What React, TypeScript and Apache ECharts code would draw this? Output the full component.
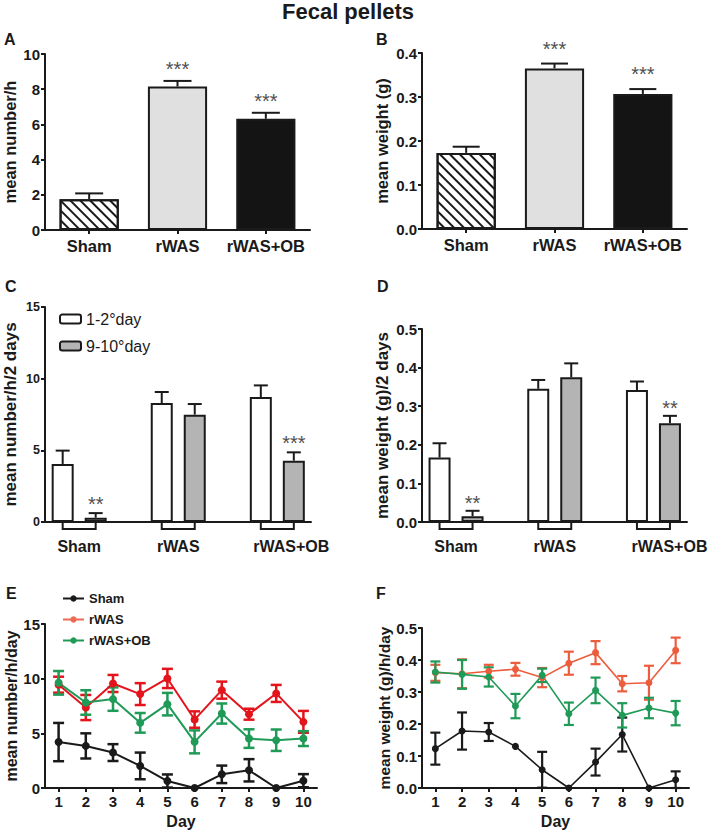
import React, { useEffect, useRef } from "react";
import * as echarts from "echarts";

// ---------- data ----------
const barCats = ["Sham", "rWAS", "rWAS+OB"];

const aMeans = [1.75, 8.15, 6.32];
const aErrs = [0.33, 0.32, 0.34];
const aStars = ["", "***", "***"];

const bMeans = [0.173, 0.365, 0.307];
const bErrs = [0.014, 0.011, 0.011];
const bStars = ["", "***", "***"];

const cDay12 = [4.05, 8.3, 8.72];
const cDay12Err = [0.93, 0.77, 0.81];
const cDay910 = [0.3, 7.49, 4.28];
const cDay910Err = [0.32, 0.74, 0.58];
const cStars = ["**", "", "***"];

const dDay12 = [0.167, 0.345, 0.342];
const dDay12Err = [0.037, 0.023, 0.022];
const dDay910 = [0.015, 0.375, 0.256];
const dDay910Err = [0.014, 0.036, 0.019];
const dStars = ["**", "", "**"];

const days = ["1", "2", "3", "4", "5", "6", "7", "8", "9", "10"];

const eSham = [4.2, 3.85, 3.24, 2.02, 0.64, 0, 1.25, 1.62, 0, 0.67];
const eShamErr = [1.75, 1.15, 0.77, 1.22, 0.6, 0, 0.8, 1.02, 0, 0.6];
const eRwas = [9.45, 7.36, 9.56, 8.59, 10.02, 6.26, 8.95, 6.75, 8.65, 6.05];
const eRwasErr = [0.73, 1.15, 0.78, 1.0, 0.88, 0.75, 0.78, 0.5, 0.78, 1.0];
const eOb = [9.62, 7.82, 8.13, 5.96, 7.67, 4.22, 6.81, 4.52, 4.37, 4.52];
const eObErr = [1.08, 1.12, 1.07, 0.9, 1.03, 1.05, 0.92, 0.85, 0.98, 0.68];

const fSham = [0.123, 0.178, 0.175, 0.13, 0.057, 0, 0.081, 0.167, 0, 0.026];
const fShamErr = [0.05, 0.058, 0.028, 0, 0.056, 0, 0.042, 0.053, 0, 0.026];
const fRwas = [0.36, 0.357, 0.365, 0.371, 0.345, 0.39, 0.423, 0.326, 0.329, 0.43];
const fRwasErr = [0.025, 0.045, 0.02, 0.02, 0.03, 0.036, 0.036, 0.024, 0.053, 0.04];
const fOb = [0.3625, 0.355, 0.347, 0.256, 0.352, 0.232, 0.305, 0.227, 0.25, 0.234];
const fObErr = [0.033, 0.045, 0.03, 0.038, 0.021, 0.035, 0.04, 0.038, 0.032, 0.038];

// ---------- style ----------
const FONT = "'Liberation Sans', Arial, Helvetica, sans-serif";
const AX = "#1a1a1a";
const STAR = "#505050";
const GRAY_BAR = "#b4b4b4";
const SHAM_C = "#1a1a1a";
const RWAS_E = "#e3141c";
const RWAS_F = "#ec5d3d";
const RWAS_LEG = "#ef6a55";
const OB_C = "#1f9a57";
const PAIR_OFF = 16.5;

function yAx(gi: number, min: number, max: number, interval: number, name: string, nameGap: number, nameSize: number, labelSize: number, dec: number) {
  return {
    type: "value",
    gridIndex: gi,
    min,
    max,
    interval,
    name,
    nameLocation: "middle",
    nameGap,
    nameTextStyle: { fontFamily: FONT, fontWeight: "bold", fontSize: nameSize, color: AX },
    axisLine: { show: true, onZero: false, lineStyle: { color: AX, width: 2 } },
    axisTick: { show: true, length: 4, lineStyle: { color: AX, width: 2 } },
    axisLabel: {
      fontFamily: FONT,
      fontWeight: "bold",
      fontSize: labelSize,
      color: AX,
      margin: 5,
      formatter: (v: number) => v.toFixed(dec),
    },
    splitLine: { show: false },
  };
}

function catX(gi: number, data: string[], fontSize: number, margin: number, name?: string) {
  return {
    type: "category",
    gridIndex: gi,
    data,
    name: name || "",
    nameLocation: "middle",
    nameGap: 25,
    nameTextStyle: { fontFamily: FONT, fontWeight: "bold", fontSize: 16, color: AX },
    axisLine: { show: true, onZero: false, lineStyle: { color: AX, width: 2 } },
    axisTick: { show: true, alignWithLabel: true, length: 4, lineStyle: { color: AX, width: 2 } },
    axisLabel: { fontFamily: FONT, fontWeight: "bold", fontSize, color: AX, margin, interval: 0 },
    splitLine: { show: false },
  };
}

function pairX(gi: number, obPad: number) {
  return {
    type: "value",
    gridIndex: gi,
    min: -0.345,
    max: 2.34,
    axisLine: { show: true, onZero: false, lineStyle: { color: AX, width: 2 } },
    axisTick: { show: false },
    splitLine: { show: false },
    axisLabel: {
      customValues: [0, 1, 2],
      margin: 16,
      fontFamily: FONT,
      fontWeight: "bold",
      fontSize: 16,
      color: AX,
      formatter: (v: number) => {
        const i = Math.round(v);
        return i === 2 ? "{o|" + barCats[i] + "}" : barCats[i];
      },
      rich: {
        o: { fontFamily: FONT, fontWeight: "bold", fontSize: 16, color: AX, padding: [0, 0, 0, obPad] },
      },
    },
  };
}

function errSeries(idx: number, means: number[], errs: number[], o: { offset: number; cap: number; both: boolean; color: string; width: number }) {
  return {
    type: "custom",
    xAxisIndex: idx,
    yAxisIndex: idx,
    clip: false,
    silent: true,
    z: 3,
    data: means.map((m, i) => [i, m, errs[i]]),
    renderItem: (_p: any, api: any) => {
      const x = api.value(0);
      const m = api.value(1);
      const e = api.value(2);
      if (!e) return { type: "group", children: [] };
      const pm = api.coord([x, m]);
      const pt = api.coord([x, m + e]);
      const pb = api.coord([x, m - e]);
      const cx = pm[0] + o.offset;
      const st = { stroke: o.color, lineWidth: o.width };
      const children: any[] = [
        { type: "line", shape: { x1: cx, y1: o.both ? pb[1] : pm[1], x2: cx, y2: pt[1] }, style: st },
        { type: "line", shape: { x1: cx - o.cap / 2, y1: pt[1], x2: cx + o.cap / 2, y2: pt[1] }, style: st },
      ];
      if (o.both) {
        children.push({ type: "line", shape: { x1: cx - o.cap / 2, y1: pb[1], x2: cx + o.cap / 2, y2: pb[1] }, style: st });
      }
      return { type: "group", children };
    },
  };
}

function starSeries(idx: number, means: number[], errs: number[], stars: string[], offset: number, gap: number) {
  return {
    type: "custom",
    xAxisIndex: idx,
    yAxisIndex: idx,
    clip: false,
    silent: true,
    z: 5,
    data: means.map((m, i) => [i, m + errs[i]]),
    renderItem: (p: any, api: any) => {
      const s = stars[p.dataIndex];
      if (!s) return { type: "group", children: [] };
      const c = api.coord([api.value(0), api.value(1)]);
      return {
        type: "text",
        x: c[0] + offset,
        y: c[1] - gap,
        style: { text: s, fontFamily: FONT, fontSize: 20, fill: STAR, align: "center", verticalAlign: "bottom" },
      };
    },
  };
}

function bracketSeries(idx: number) {
  return {
    type: "custom",
    xAxisIndex: idx,
    yAxisIndex: idx,
    clip: false,
    silent: true,
    z: 4,
    data: barCats.map((_c, i) => [i, 0]),
    renderItem: (_p: any, api: any) => {
      const c = api.coord([api.value(0), 0]);
      return {
        type: "polyline",
        shape: {
          points: [
            [c[0] - PAIR_OFF, c[1]],
            [c[0] - PAIR_OFF, c[1] + 7],
            [c[0] + PAIR_OFF, c[1] + 7],
            [c[0] + PAIR_OFF, c[1]],
          ],
        },
        style: { stroke: AX, lineWidth: 2, fill: null },
      };
    },
  };
}

const hatch = {
  symbol: "rect",
  symbolSize: 1,
  color: AX,
  backgroundColor: "#ffffff",
  dashArrayX: [1, 0],
  dashArrayY: [2, 5],
  rotation: Math.PI / 4,
};

function singleBarStyles() {
  return [
    { color: "#ffffff", decal: hatch, borderColor: AX, borderWidth: 2 },
    { color: "#e0e0e0", borderColor: AX, borderWidth: 2 },
    { color: "#141414", borderColor: AX, borderWidth: 2 },
  ];
}

function lineSeries(idx: number, name: string, data: number[], color: string, width: number, size: number) {
  return {
    type: "line",
    name,
    xAxisIndex: idx,
    yAxisIndex: idx,
    data,
    symbol: "circle",
    symbolSize: size,
    itemStyle: { color },
    lineStyle: { color, width },
    z: 4,
  };
}

const letter = (t: string, left: number, top: number) => ({
  text: t,
  left,
  top,
  padding: 0,
  textStyle: { fontFamily: FONT, fontWeight: "bold", fontSize: 16, color: AX },
});

export default function App() {
  const ref = useRef<HTMLDivElement>(null);
  useEffect(() => {
    if (!ref.current) return;
    const chart = echarts.init(ref.current, undefined, { renderer: "svg" });
    const st = singleBarStyles();
    const option: any = {
      animation: false,
      backgroundColor: "#ffffff",
      title: [
        {
          text: "Fecal pellets",
          left: 282,
          top: 0,
          padding: 0,
          textStyle: { fontFamily: FONT, fontWeight: "bold", fontSize: 22, color: AX },
        },
        letter("A", 4, 31),
        letter("B", 376, 31),
        letter("C", 5, 278),
        letter("D", 377, 278),
        letter("E", 6, 585),
        letter("F", 376, 585),
      ],
      legend: [
        {
          data: ["1-2°day", "9-10°day"],
          left: 54,
          top: 306,
          orient: "vertical",
          itemWidth: 21,
          itemHeight: 9,
          itemGap: 11,
          selectedMode: false,
          textStyle: { fontFamily: FONT, fontSize: 16, color: AX },
        },
        {
          data: [
            { name: "Sham" },
            { name: "rWAS", itemStyle: { color: RWAS_LEG }, lineStyle: { color: RWAS_LEG } },
            { name: "rWAS+OB" },
          ],
          left: 57,
          top: 587,
          orient: "vertical",
          itemWidth: 21,
          itemHeight: 8,
          itemGap: 8,
          selectedMode: false,
          textStyle: { fontFamily: FONT, fontSize: 13, fontWeight: "bold", color: AX },
        },
      ],
      grid: [
        { left: 45, top: 54, width: 265, height: 176, outerBoundsMode: "none" },
        { left: 422, top: 53, width: 265, height: 176, outerBoundsMode: "none" },
        { left: 45, top: 307, width: 266, height: 215, outerBoundsMode: "none" },
        { left: 422, top: 329, width: 265, height: 193, outerBoundsMode: "none" },
        { left: 45, top: 624, width: 272, height: 164, outerBoundsMode: "none" },
        { left: 422, top: 628, width: 267, height: 160, outerBoundsMode: "none" },
      ],
      xAxis: [
        catX(0, barCats, 16.5, 7),
        catX(1, barCats, 16.5, 7),
        pairX(2, 28),
        pairX(3, 32),
        catX(4, days, 15, 6, "Day"),
        catX(5, days, 15, 6, "Day"),
      ],
      yAxis: [
        yAx(0, 0, 10, 2, "mean number/h", 27, 16.5, 15, 0),
        yAx(1, 0, 0.4, 0.1, "mean weight (g)", 32, 16.5, 15, 1),
        yAx(2, 0, 15, 5, "mean number/h/2 days", 26, 17, 12.5, 0),
        yAx(3, 0, 0.5, 0.1, "mean weight (g)/2 days", 31, 17, 15, 1),
        yAx(4, 0, 15, 5, "mean number/h/day", 20, 16, 15, 0),
        yAx(5, 0, 0.5, 0.1, "mean weight (g)/h/day", 28, 15.5, 15, 1),
      ],
      series: [
        // A
        {
          type: "bar",
          name: "A",
          xAxisIndex: 0,
          yAxisIndex: 0,
          barWidth: "67%",
          data: aMeans.map((v, i) => ({ value: v, itemStyle: st[i] })),
          z: 2,
        },
        errSeries(0, aMeans, aErrs, { offset: 0, cap: 28, both: false, color: AX, width: 2 }),
        starSeries(0, aMeans, aErrs, aStars, 0, 2),
        // B
        {
          type: "bar",
          name: "B",
          xAxisIndex: 1,
          yAxisIndex: 1,
          barWidth: "67%",
          data: bMeans.map((v, i) => ({ value: v, itemStyle: st[i] })),
          z: 2,
        },
        errSeries(1, bMeans, bErrs, { offset: 0, cap: 27, both: false, color: AX, width: 2 }),
        starSeries(1, bMeans, bErrs, bStars, 0, 5),
        // C
        {
          type: "bar",
          name: "1-2°day",
          xAxisIndex: 2,
          yAxisIndex: 2,
          barWidth: 22,
          barGap: "50%",
          itemStyle: { color: "#ffffff", borderColor: AX, borderWidth: 2 },
          data: cDay12.map((v, i) => [i, v]),
          z: 2,
        },
        {
          type: "bar",
          name: "9-10°day",
          xAxisIndex: 2,
          yAxisIndex: 2,
          barWidth: 22,
          barGap: "50%",
          itemStyle: { color: GRAY_BAR, borderColor: AX, borderWidth: 2 },
          data: cDay910.map((v, i) => [i, v]),
          z: 2,
        },
        errSeries(2, cDay12, cDay12Err, { offset: -PAIR_OFF, cap: 14, both: false, color: AX, width: 2 }),
        errSeries(2, cDay910, cDay910Err, { offset: PAIR_OFF, cap: 14, both: false, color: AX, width: 2 }),
        starSeries(2, cDay910, cDay910Err, cStars, PAIR_OFF, -1),
        bracketSeries(2),
        // D
        {
          type: "bar",
          name: "D 1-2°day",
          xAxisIndex: 3,
          yAxisIndex: 3,
          barWidth: 22,
          barGap: "50%",
          itemStyle: { color: "#ffffff", borderColor: AX, borderWidth: 2 },
          data: dDay12.map((v, i) => [i, v]),
          z: 2,
        },
        {
          type: "bar",
          name: "D 9-10°day",
          xAxisIndex: 3,
          yAxisIndex: 3,
          barWidth: 22,
          barGap: "50%",
          itemStyle: { color: GRAY_BAR, borderColor: AX, borderWidth: 2 },
          data: dDay910.map((v, i) => [i, v]),
          z: 2,
        },
        errSeries(3, dDay12, dDay12Err, { offset: -PAIR_OFF, cap: 14, both: false, color: AX, width: 2 }),
        errSeries(3, dDay910, dDay910Err, { offset: PAIR_OFF, cap: 14, both: false, color: AX, width: 2 }),
        starSeries(3, dDay910, dDay910Err, dStars, PAIR_OFF, -2),
        bracketSeries(3),
        // E
        errSeries(4, eSham, eShamErr, { offset: 0, cap: 11, both: true, color: SHAM_C, width: 2.5 }),
        errSeries(4, eRwas, eRwasErr, { offset: 0, cap: 11, both: true, color: RWAS_E, width: 2.5 }),
        errSeries(4, eOb, eObErr, { offset: 0, cap: 11, both: true, color: OB_C, width: 2.5 }),
        lineSeries(4, "Sham", eSham, SHAM_C, 2, 8),
        lineSeries(4, "rWAS", eRwas, RWAS_E, 2, 8),
        lineSeries(4, "rWAS+OB", eOb, OB_C, 2, 8),
        // F
        errSeries(5, fSham, fShamErr, { offset: 0, cap: 10, both: true, color: SHAM_C, width: 2.2 }),
        errSeries(5, fRwas, fRwasErr, { offset: 0, cap: 10, both: true, color: RWAS_F, width: 2.2 }),
        errSeries(5, fOb, fObErr, { offset: 0, cap: 10, both: true, color: OB_C, width: 2.2 }),
        lineSeries(5, "F Sham", fSham, SHAM_C, 1.6, 7),
        lineSeries(5, "F rWAS", fRwas, RWAS_F, 1.6, 7),
        lineSeries(5, "F rWAS+OB", fOb, OB_C, 1.6, 7),
      ],
    };
    chart.setOption(option);
    return () => chart.dispose();
  }, []);
  return (
    <div
      ref={ref}
      style={{ position: "absolute", left: 0, top: 0, width: 709, height: 830, background: "#fff" }}
    />
  );
}
